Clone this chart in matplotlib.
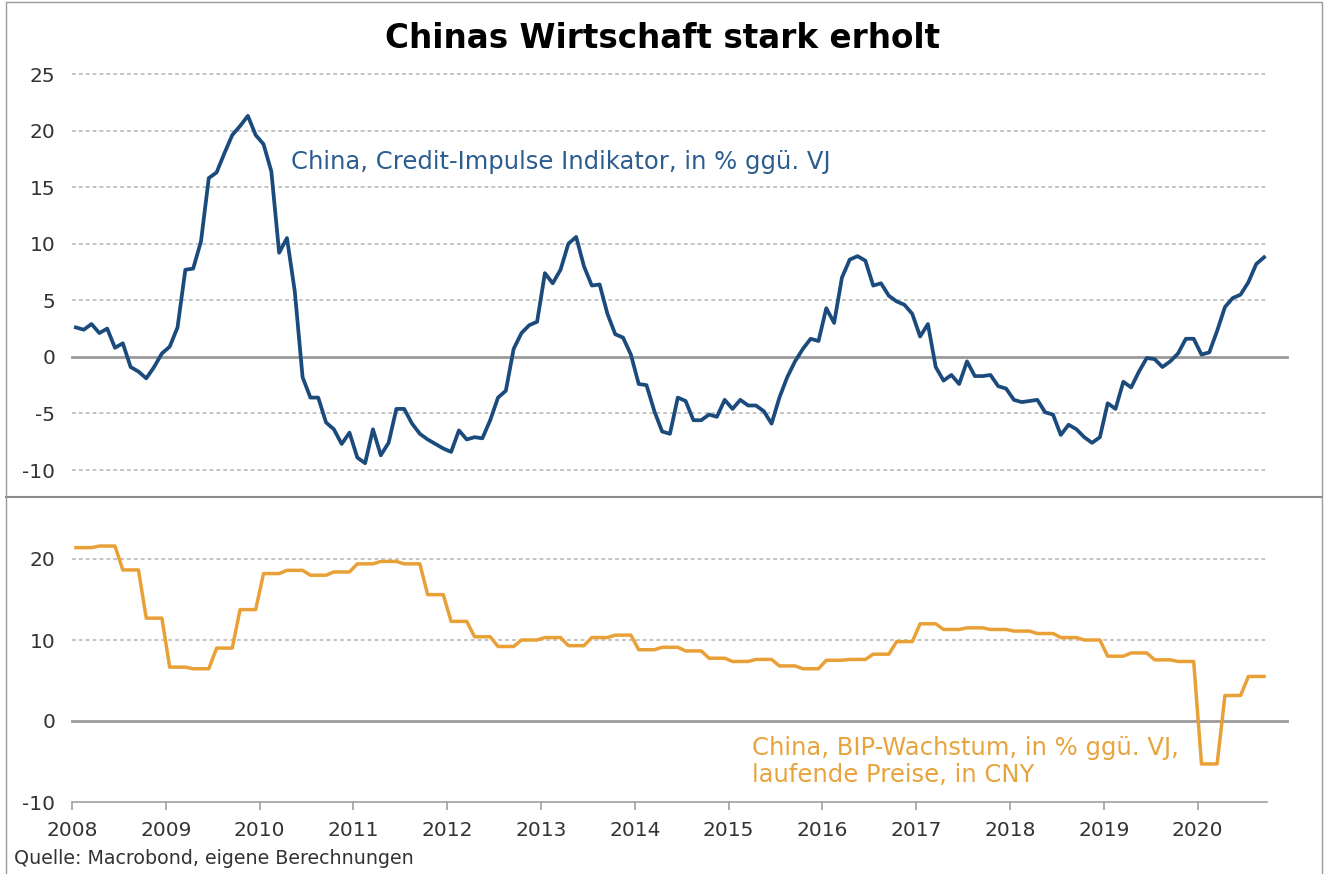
import numpy as np
import matplotlib
matplotlib.use('Agg')
import matplotlib.pyplot as plt
from matplotlib.lines import Line2D

# monthly credit impulse, Jan 2008 .. Sep 2020
credit_impulse = [
    2.6, 2.4, 2.9, 2.1, 2.5, 0.8, 1.2, -0.9, -1.3, -1.9, -0.9, 0.3,          # 2008
    0.9, 2.6, 7.7, 7.8, 10.2, 15.8, 16.3, 18.0, 19.6, 20.4, 21.3, 19.6,      # 2009
    18.8, 16.4, 9.2, 10.5, 5.8, -1.8, -3.6, -3.6, -5.8, -6.4, -7.7, -6.7,    # 2010
    -8.9, -9.4, -6.4, -8.7, -7.6, -4.6, -4.6, -5.9, -6.8, -7.3, -7.7, -8.1,  # 2011
    -8.4, -6.5, -7.3, -7.1, -7.2, -5.6, -3.6, -3.0, 0.7, 2.1, 2.8, 3.1,      # 2012
    7.4, 6.5, 7.7, 10.0, 10.6, 8.0, 6.3, 6.4, 3.8, 2.0, 1.7, 0.2,            # 2013
    -2.4, -2.5, -4.8, -6.6, -6.8, -3.6, -3.9, -5.6, -5.6, -5.1, -5.3, -3.8,  # 2014
    -4.6, -3.8, -4.3, -4.3, -4.8, -5.9, -3.6, -1.8, -0.4, 0.7, 1.6, 1.4,     # 2015
    4.3, 3.0, 7.0, 8.6, 8.9, 8.5, 6.3, 6.5, 5.4, 4.9, 4.6, 3.8,              # 2016
    1.8, 2.9, -0.9, -2.1, -1.6, -2.4, -0.4, -1.7, -1.7, -1.6, -2.6, -2.8,    # 2017
    -3.8, -4.0, -3.9, -3.8, -4.9, -5.1, -6.9, -6.0, -6.4, -7.1, -7.6, -7.1,  # 2018
    -4.1, -4.6, -2.2, -2.7, -1.3, -0.1, -0.2, -0.9, -0.4, 0.3, 1.6, 1.6,     # 2019
    0.2, 0.4, 2.3, 4.4, 5.2, 5.5, 6.6, 8.2, 8.8,                             # 2020
]

# quarterly nominal GDP growth, Q1 2008 .. Q3 2020
gdp_quarterly = [
    21.4, 21.6, 18.65, 12.7,   # 2008
    6.65, 6.45, 9.0, 13.75,    # 2009
    18.2, 18.6, 18.0, 18.4,    # 2010
    19.4, 19.7, 19.4, 15.6,    # 2011
    12.3, 10.4, 9.2, 10.0,     # 2012
    10.3, 9.3, 10.3, 10.6,     # 2013
    8.8, 9.1, 8.65, 7.75,      # 2014
    7.35, 7.6, 6.8, 6.45,      # 2015
    7.5, 7.6, 8.25, 9.8,       # 2016
    12.0, 11.3, 11.5, 11.3,    # 2017
    11.1, 10.8, 10.3, 10.0,    # 2018
    8.0, 8.4, 7.55, 7.35,      # 2019
    -5.3, 3.15, 5.5,           # 2020
]

years = list(range(2008, 2021))
top_ticks = [-10, -5, 0, 5, 10, 15, 20, 25]
bottom_ticks = [-10, 0, 10, 20]

title = 'Chinas Wirtschaft stark erholt'
label_credit = 'China, Credit-Impulse Indikator, in % ggü. VJ'
label_gdp = 'China, BIP-Wachstum, in % ggü. VJ,\nlaufende Preise, in CNY'
source = 'Quelle: Macrobond, eigene Berechnungen'

BLUE = '#1b4a7c'
ORANGE = '#e9a036'
GRID = '#b4b4b4'
ZERO = '#9a9a9a'
TXT = '#333333'

W, H = 1326, 874


def fx(px):
    return px / W


def fy(py):
    return 1 - py / H


def main():
    plt.rcParams['font.family'] = 'DejaVu Sans'
    plt.rcParams['axes.unicode_minus'] = False
    fig = plt.figure(figsize=(W / 100, H / 100), dpi=100)

    left = fx(72)
    width = fx(1267) - fx(72)
    ax1 = fig.add_axes([left, fy(470), width, fy(74) - fy(470)])
    ax2 = fig.add_axes([left, fy(802), width, fy(518.5) - fy(802)])

    x_month = 2008 + np.arange(len(credit_impulse)) / 12 + 1 / 24
    gdp_monthly = np.repeat(gdp_quarterly, 3)
    x_gdp = 2008 + np.arange(len(gdp_monthly)) / 12 + 1 / 24

    xmax = 2020.74
    for ax, ticks, lo, hi in [(ax1, top_ticks, -10, 25), (ax2, bottom_ticks, -10, 25)]:
        ax.set_xlim(2008, xmax)
        ax.set_ylim(lo, hi)
        ax.set_yticks(ticks)
        for t in ticks:
            if t == 0:
                ax.plot([2008, 2020.95], [0, 0], color=ZERO, lw=2.0,
                        clip_on=False, zorder=2)
            elif t != -10 or ax is ax1:
                ax.axhline(t, color=GRID, lw=1.1, linestyle=(0, (2.5, 2)),
                           zorder=1, clip_on=False)
        for s in ax.spines.values():
            s.set_visible(False)
        ax.tick_params(axis='y', length=0, pad=12, labelsize=14.5, labelcolor=TXT)

    ax1.set_xticks([])
    ax1.plot(x_month, credit_impulse, color=BLUE, lw=2.7, zorder=3,
             solid_joinstyle='round')
    ax1.text(2010.33, 17.2, label_credit, color='#2c5d8f', fontsize=17.5,
             ha='left', va='center')

    ax2.spines['bottom'].set_visible(True)
    ax2.spines['bottom'].set_color('#a0a0a0')
    ax2.spines['bottom'].set_linewidth(1.2)
    ax2.spines['bottom'].set_position(('data', -10))
    ax2.set_xticks(years)
    ax2.set_xticklabels([str(y) for y in years])
    ax2.tick_params(axis='x', length=6, width=1.2, color='#a0a0a0', pad=8,
                    labelsize=14.5, labelcolor=TXT)
    ax2.plot(x_gdp, gdp_monthly, color=ORANGE, lw=2.5, zorder=3, clip_on=False)
    ax2.text(2015.25, -4.95, label_gdp, color='#e8a33d', fontsize=17.5,
             ha='left', va='center', linespacing=1.15)

    fig.text(0.5, fy(38), title, ha='center', va='center', fontsize=23.5,
             fontweight='bold', color='black')
    fig.text(fx(14), fy(858), source, ha='left', va='center', fontsize=13.7,
             color=TXT)

    # panel separator and frame
    fig.add_artist(Line2D([fx(6), fx(1322)], [fy(497), fy(497)], color='#8a8a8a', lw=1.5))
    fig.add_artist(Line2D([fx(6), fx(6), fx(1322), fx(1322)],
                          [fy(874), fy(2), fy(2), fy(874)], color='#9a9a9a', lw=1.0))

    fig.savefig('out.png', dpi=100)
    plt.close()


if __name__ == '__main__':
    main()
